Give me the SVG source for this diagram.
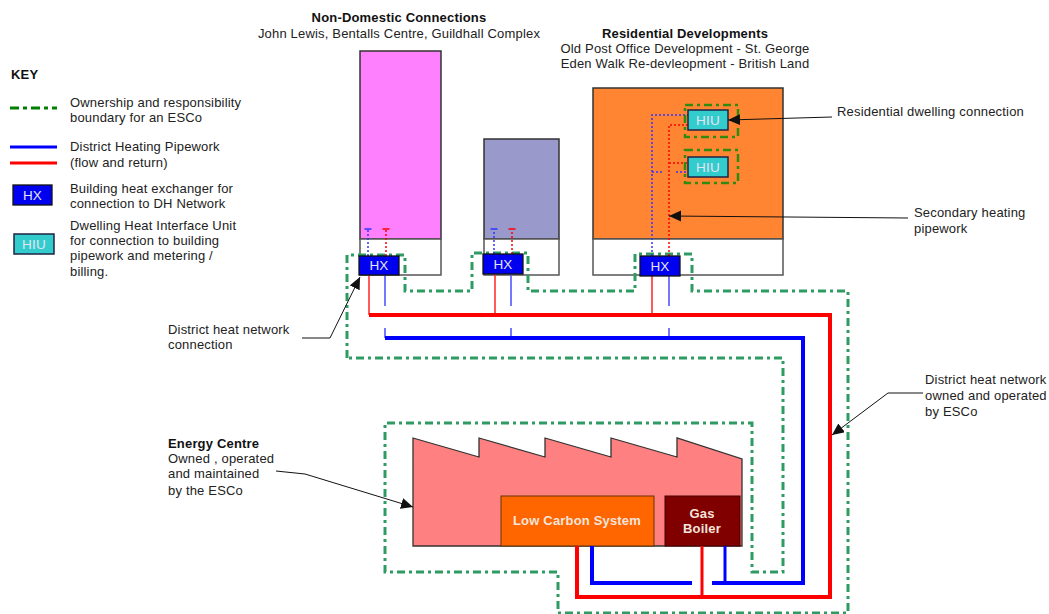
<svg xmlns="http://www.w3.org/2000/svg" width="1049" height="614" viewBox="0 0 1049 614">
<style>
text{font-family:"Liberation Sans",Arial,sans-serif;font-size:13px;letter-spacing:.18px;fill:#222}
.b{font-weight:bold;fill:#111}
.m{text-anchor:middle}
.w{fill:#e4e4f4;text-anchor:middle;font-size:13.500px}
.wb{fill:#f4e4dc;text-anchor:middle;font-weight:bold;font-size:13px}
.bld{stroke:#333;stroke-width:1.5}
.low{fill:#fff;stroke:#555;stroke-width:1.5}
.hx{fill:#0000f0;stroke:#111;stroke-width:1.3}
.hiu{fill:#33cccc;stroke:#224;stroke-width:1.5}
.bd{fill:none;stroke:#2e9b62;stroke-width:3;stroke-dasharray:8 4 3 4}
.bd2{fill:none;stroke:#2f8a10;stroke-width:2.5;stroke-dasharray:8 4 3 4}
.rt{fill:none;stroke:#f00;stroke-width:4}
.bt{fill:none;stroke:#00f;stroke-width:4}
.r1{fill:none;stroke:#f33;stroke-width:1.6}
.b1{fill:none;stroke:#55f;stroke-width:1.6}
.rd{fill:none;stroke:#f00;stroke-width:1.5;stroke-dasharray:2 2}
.bdt{fill:none;stroke:#33f;stroke-width:1.5;stroke-dasharray:2 2}
.ld{fill:none;stroke:#111;stroke-width:1;marker-end:url(#a)}
</style>
<defs>
<marker id="a" markerUnits="userSpaceOnUse" markerWidth="13" markerHeight="12" refX="12" refY="5.500" orient="auto"><path d="M0 0L12 5.500L0 11Z" fill="#111"/></marker>
</defs>
<g id="key">
<text x="11" y="79" class="b">KEY</text>
<path d="M10 108H57" fill="none" stroke="#008000" stroke-width="3" stroke-dasharray="9 4 4 4"/>
<text x="70" y="107">Ownership and responsibility</text>
<text x="70" y="122">boundary for an ESCo</text>
<path d="M10 147H57" fill="none" stroke="#00f" stroke-width="3"/>
<path d="M10 163H57" fill="none" stroke="#f00" stroke-width="3"/>
<text x="70" y="151">District Heating Pipework</text>
<text x="70" y="167">(flow and return)</text>
<rect class="hx" x="13" y="185" width="39" height="20"/>
<text class="w" x="32.500" y="200">HX</text>
<text x="70" y="193">Building heat exchanger for</text>
<text x="70" y="208">connection to DH Network</text>
<rect class="hiu" x="14" y="234" width="40" height="20"/>
<text class="w" x="34" y="249">HIU</text>
<text x="70" y="230">Dwelling Heat Interface Unit</text>
<text x="70" y="245">for connection to building</text>
<text x="70" y="260">pipework and metering /</text>
<text x="70" y="276">billing.</text>
</g>
<g id="building-non-domestic">
<text class="b m" x="399" y="22">Non-Domestic Connections</text>
<text class="m" x="399" y="38">John Lewis, Bentalls Centre, Guildhall Complex</text>
<rect class="bld" x="360" y="51" width="81" height="188" fill="#ff80ff"/>
<rect class="low" x="360" y="239" width="81" height="36"/>
</g>
<g id="building-middle">
<rect class="bld" x="484" y="139" width="75" height="100" fill="#9999cc"/>
<rect class="low" x="484" y="239" width="75" height="36"/>
</g>
<g id="building-residential">
<text class="b m" x="685" y="38">Residential Developments</text>
<text class="m" x="685" y="53">Old Post Office Development - St. George</text>
<text class="m" x="685" y="68">Eden Walk Re-devleopment - British Land</text>
<rect class="bld" x="593" y="88" width="190" height="151" fill="#ff8533"/>
<rect class="low" x="593" y="239" width="190" height="36"/>
</g>
<g id="energy-centre">
<text class="b" x="168" y="448">Energy Centre</text>
<text x="168" y="463">Owned , operated</text>
<text x="168" y="478">and maintained</text>
<text x="168" y="495">by the ESCo</text>
<path d="M413 438L479 457V438L545 457V438L611 457V438L677 457V438L742 459V546H413Z" fill="#ff8080" stroke="#333" stroke-width="1.3"/>
</g>
<g id="low-carbon-system">
<rect x="501" y="496" width="153" height="50" fill="#ff6600" stroke="#663300" stroke-width="1"/>
<text class="wb" x="577" y="525">Low Carbon System</text>
</g>
<g id="gas-boiler">
<rect x="665" y="496" width="75" height="50" fill="#800000" stroke="#440000" stroke-width="1"/>
<text class="wb" x="702" y="518">Gas</text>
<text class="wb" x="702" y="533">Boiler</text>
</g>
<g id="connectors">
<path class="r1" d="M369 275V315M495 275V315M652 275V315"/>
<path class="b1" d="M385 275V306M385 328V338M511 275V306M511 328V338M669 275V306M669 328V338"/>
<path class="rt" d="M369 315H830V597H577V546"/>
<path class="r1" style="stroke:#f00;stroke-width:3" d="M702 546V597"/>
<path class="bt" d="M385 338H803V583H712M692 583H592V546"/>
<path class="bt" style="stroke-width:3" d="M725 546V583"/>
<path class="bd" d="M347 358V255H405V291H472V253H528V291H635V254H692V291H848V613H558V572H385V423H752V572H783V358Z"/>
<path class="bdt" d="M368 256V230M494 254V230M652 256V115H688M652 172H664M676 172H688"/>
<path class="rd" d="M386 256V230M512 254V230M669 256V125H688M669 163H688"/>
<path d="M364.500 229H371.500M490.500 229H497.500" fill="none" stroke="#33f" stroke-width="1.5"/>
<path d="M382.500 229H389.500M508.500 229H515.500" fill="none" stroke="#f00" stroke-width="1.5"/>
<path class="bd2" d="M685 105H738V137H685Z"/>
<path class="bd2" d="M685 150H738V183H685Z"/>
<path class="ld" d="M302 338H330L360 277"/>
<path class="ld" d="M832 117L728 120"/>
<path class="ld" d="M908 218L669 216"/>
<path class="ld" d="M923 393H888L832 435"/>
<path class="ld" d="M276 471L305 474L413 507"/>
</g>
<g id="hx-1"><rect class="hx" x="359" y="256" width="40" height="19"/><text class="w" x="379" y="270">HX</text></g>
<g id="hx-2"><rect class="hx" x="483" y="254" width="40" height="20"/><text class="w" x="503" y="269">HX</text></g>
<g id="hx-3"><rect class="hx" x="640" y="256" width="40" height="20"/><text class="w" x="660" y="271">HX</text></g>
<g id="hiu-1"><rect class="hiu" x="688" y="110" width="40" height="20"/><text class="w" x="708" y="125">HIU</text></g>
<g id="hiu-2"><rect class="hiu" x="688" y="157" width="40" height="20"/><text class="w" x="708" y="172">HIU</text></g>
<g id="labels">
<text x="168" y="334">District heat network</text>
<text x="168" y="349">connection</text>
<text x="837" y="116">Residential dwelling connection</text>
<text x="914" y="217">Secondary heating</text>
<text x="914" y="233">pipework</text>
<text x="925" y="384">District heat network</text>
<text x="925" y="400">owned and operated</text>
<text x="925" y="416">by ESCo</text>
</g>
</svg>
